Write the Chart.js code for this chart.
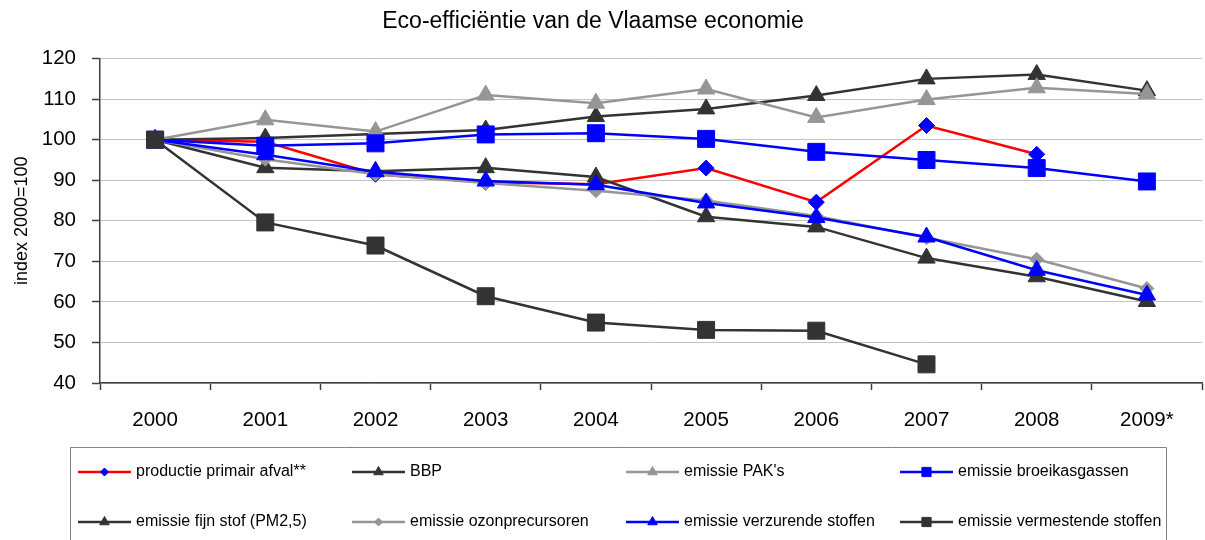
<!DOCTYPE html>
<html><head><meta charset="utf-8">
<script src="https://cdn.jsdelivr.net/npm/chart.js@4/dist/chart.umd.min.js"></script>
<style>html,body{margin:0;padding:0;overflow:hidden;background:#fff}#wrap{position:relative;width:1215px;height:540px}</style>
</head><body><div id="wrap"><canvas id="c"></canvas></div>
<script>
const categories = ['2000','2001','2002','2003','2004','2005','2006','2007','2008','2009*'];
const productiePrimairAfval = [100, 99.5, 91.5, 89.5, 89.0, 93.0, 84.6, 103.5, 96.4, null];
const bbp = [100, 100.4, 101.4, 102.4, 105.7, 107.6, 110.9, 115.0, 116.1, 112.1];
const emissiePAK = [100, 104.9, 102.0, 111.0, 109.0, 112.5, 105.5, 109.9, 112.8, 111.3];
const emissieBroeikasgassen = [100, 98.5, 99.1, 101.3, 101.6, 100.2, 97.0, 95.0, 93.0, 89.7];
const emissieFijnStof = [100, 93.1, 92.2, 93.1, 90.8, 81.0, 78.5, 70.8, 66.2, 60.1];
const emissieOzonprecursoren = [100, 95.2, 91.5, 89.3, 87.4, 85.0, 81.2, 75.8, 70.5, 63.3];
const emissieVerzurende = [100, 96.3, 92.1, 89.8, 88.9, 84.4, 80.8, 76.0, 67.8, 61.7];
const emissieVermestende = [100, 79.6, 73.9, 61.4, 54.9, 53.1, 52.9, 44.6, null, null];
const seriesLabels = ['productie primair afval**','BBP',"emissie PAK's",'emissie broeikasgassen','emissie fijn stof (PM2,5)','emissie ozonprecursoren','emissie verzurende stoffen','emissie vermestende stoffen'];
const yMin = 40, yMax = 120, yStep = 10;
const titleText = 'Eco-efficiëntie van de Vlaamse economie';
const yTitleText = 'index 2000=100';

const FONT = '"Liberation Sans", Arial, sans-serif';
const DARK = '#333333', GRAY = '#969696', BLUE = '#0000ff', RED = '#ff0000';

function mk(i, data, line, marker, style, r, lr) {
  return {
    label: seriesLabels[i], data: data,
    borderColor: line, borderWidth: 2.5,
    pointStyle: style, pointRadius: r, pointHoverRadius: r,
    pointBackgroundColor: marker, pointBorderColor: marker, pointBorderWidth: 1,
    tension: 0, fill: false, order: 20 - i, legendRadius: lr
  };
}
const datasets = [
  mk(0, productiePrimairAfval, RED, BLUE, 'rectRot', 8, 4),
  mk(1, bbp, DARK, DARK, 'triangle', 10, 5.5),
  mk(2, emissiePAK, GRAY, GRAY, 'triangle', 10, 5.5),
  mk(3, emissieBroeikasgassen, BLUE, BLUE, 'rect', 12, 6.5),
  mk(4, emissieFijnStof, DARK, DARK, 'triangle', 10, 5.5),
  mk(5, emissieOzonprecursoren, GRAY, GRAY, 'rectRot', 7, 4),
  mk(6, emissieVerzurende, BLUE, BLUE, 'triangle', 10, 5.5),
  mk(7, emissieVermestende, DARK, DARK, 'rect', 12, 6.5)
];

function drawMarker(ctx, style, r, x, y) {
  if (Chart.helpers && Chart.helpers.drawPoint) {
    Chart.helpers.drawPoint(ctx, {pointStyle: style, radius: r, borderWidth: 1, rotation: 0}, x, y);
    return;
  }
  ctx.beginPath();
  if (style === 'rect') { const s = r * Math.SQRT1_2; ctx.rect(x - s, y - s, 2 * s, 2 * s); }
  else if (style === 'rectRot') { ctx.moveTo(x - r, y); ctx.lineTo(x, y - r); ctx.lineTo(x + r, y); ctx.lineTo(x, y + r); ctx.closePath(); }
  else { ctx.moveTo(x, y - r); ctx.lineTo(x + r * 0.866, y + r / 2); ctx.lineTo(x - r * 0.866, y + r / 2); ctx.closePath(); }
  ctx.fill(); ctx.stroke();
}

const boxLegend = {
  id: 'boxLegend',
  afterDraw(chart) {
    const ctx = chart.ctx;
    const textX = [136, 410, 684, 958];
    const rowY = [472, 522];
    const boxL = 70, boxT = 447, boxR = 1166;
    ctx.save();
    ctx.strokeStyle = '#808080'; ctx.lineWidth = 1;
    ctx.beginPath();
    ctx.moveTo(boxL + 0.5, 560); ctx.lineTo(boxL + 0.5, boxT + 0.5);
    ctx.lineTo(boxR + 0.5, boxT + 0.5); ctx.lineTo(boxR + 0.5, 560);
    ctx.stroke();
    ctx.beginPath(); ctx.rect(boxL + 1, boxT + 1, boxR - boxL - 1, 200); ctx.clip();
    ctx.font = '16px ' + FONT;
    ctx.textBaseline = 'middle'; ctx.textAlign = 'left';
    chart.data.datasets.forEach((ds, i) => {
      const tx = textX[i % 4], y = rowY[Math.floor(i / 4)];
      ctx.strokeStyle = ds.borderColor; ctx.lineWidth = 2.5;
      ctx.beginPath(); ctx.moveTo(tx - 58, y); ctx.lineTo(tx - 5, y); ctx.stroke();
      ctx.fillStyle = ds.pointBackgroundColor; ctx.strokeStyle = ds.pointBorderColor; ctx.lineWidth = 1;
      drawMarker(ctx, ds.pointStyle, ds.legendRadius, tx - 31.5, y);
      ctx.fillStyle = '#000';
      ctx.fillText(ds.label, tx, y);
    });
    ctx.restore();
  }
};

new Chart(document.getElementById('c'), {
  type: 'line',
  data: { labels: categories, datasets: datasets },
  plugins: [boxLegend],
  options: {
    responsive: true, maintainAspectRatio: false, animation: false,
    layout: { padding: { left: -28, right: 1, top: 0, bottom: 107 } },
    plugins: {
      legend: { display: false },
      tooltip: { enabled: false },
      title: {
        display: true, text: titleText, color: '#000',
        font: { family: FONT, size: 23, weight: 'normal' },
        padding: { top: 8, bottom: 23 }
      }
    },
    scales: {
      x: {
        offset: true,
        grid: { display: true, drawOnChartArea: false, offset: true, tickLength: 7, tickColor: '#404040', tickWidth: 1.5 },
        border: { display: true, color: '#404040', width: 1.5 },
        ticks: { color: '#000', font: { family: FONT, size: 20.5 }, padding: 18.5, maxRotation: 0, autoSkip: false },
        afterFit(s) { s.height = 50; }
      },
      y: {
        min: yMin, max: yMax,
        grid: { color: '#c4c4c4', lineWidth: 1, tickLength: 8, tickColor: '#404040', tickWidth: 1.5 },
        border: { display: true, color: '#404040', width: 1.5 },
        ticks: { stepSize: yStep, color: '#000', font: { family: FONT, size: 20.5 }, padding: 16 },
        title: { display: true, text: yTitleText, color: '#000', font: { family: FONT, size: 18 }, padding: { top: 39, bottom: 0 } },
        afterFit(s) { s.width = 128; }
      }
    }
  }
});
</script>
</body></html>
